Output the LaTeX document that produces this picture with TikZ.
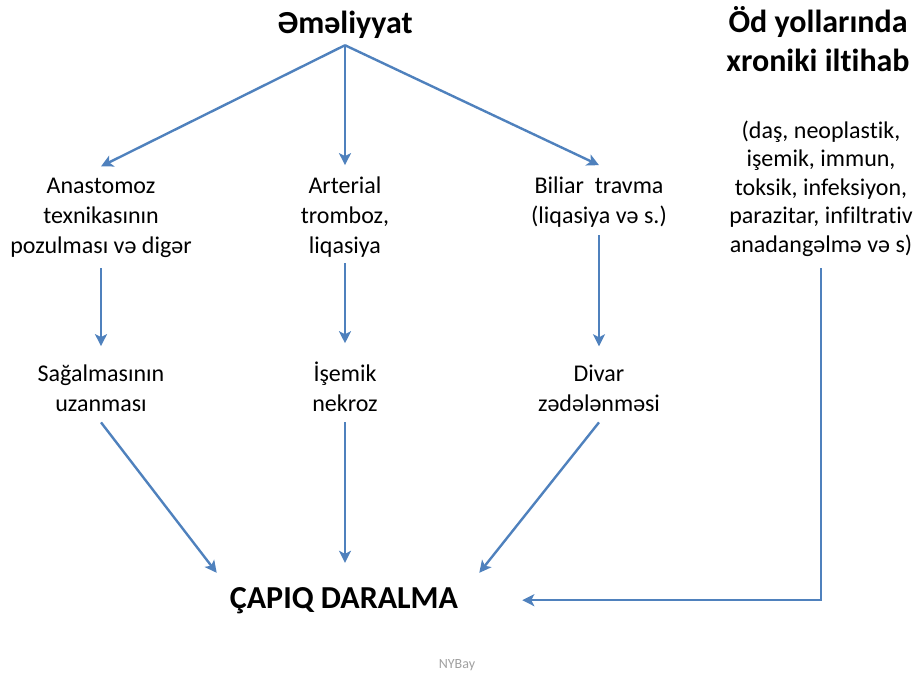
\documentclass[tikz,border=0pt]{standalone}
\usepackage{fontspec}
\setmainfont{Carlito}[Ligatures=NoCommon]
\usetikzlibrary{arrows.meta}
\definecolor{arrowblue}{HTML}{4F81BD}
\definecolor{txtgray}{HTML}{A0A0A0}
\begin{document}
\begin{tikzpicture}[x=1pt,y=-1pt,
  txt/.style={align=center, anchor=base, font=\fontsize{24}{30}\selectfont, inner xsep=2pt, inner ysep=11pt},
  ttl/.style={align=center, anchor=base, font=\fontsize{32}{39}\selectfont\bfseries, inner xsep=2pt, inner ysep=0pt},
  arr/.style={draw=arrowblue, line width=2.4pt, -{Stealth[length=12pt,width=12pt,inset=3pt]}}
]
\useasboundingbox (0,0) rectangle (916,673);
% base anchor = baseline of the last line
\node[ttl, inner ysep=7pt] (op) at (345,33) {Əməliyyat};
\node[ttl] (rt) at (818,71) {Öd yollarında\\xroniki iltihab};
\node[txt, font=\fontsize{24}{28.5}\selectfont, inner ysep=12pt] (para) at (821,252) {(daş, neoplastik,\\işemik, immun,\\toksik, infeksiyon,\\parazitar, infiltrativ\\anadangəlmə və s)};

\node[txt] (a1) at (101,253) {Anastomoz\\texnikasının\\pozulması və digər};
\node[txt] (a2) at (345,253) {Arterial\\tromboz,\\liqasiya};
\node[txt] (a3) at (599,223) {Biliar\ \ travma\\(liqasiya və s.)};

\node[txt] (b1) at (101,411) {Sağalmasının\\uzanması};
\node[txt] (b2) at (345,411) {İşemik\\nekroz};
\node[txt] (b3) at (599,411) {Divar\\zədələnməsi};

\node[ttl, inner xsep=13pt, inner ysep=14pt] (scar) at (344,608) {ÇAPIQ DARALMA};
\node[anchor=base, font=\fontsize{14}{16}\selectfont, text=txtgray, inner sep=0pt] (nyb) at (457,668) {NYBay};

\draw[arr] (op.south) -- (a1.north);
\draw[arr] (op.south) -- (a2.north);
\draw[arr] (op.south) -- (a3.north);

\draw[arr, shorten >=7pt] (a1.south) -- (b1.north);
\draw[arr, shorten <=-5pt, shorten >=7pt] (a2.south) -- (b2.north);
\draw[arr, shorten <=-3pt, shorten >=7pt] (a3.south) -- (b3.north);

\draw[arr] (b1.south) -- (scar.north west);
\draw[arr, shorten >=10pt] (b2.south) -- (scar.north -| b2.south);
\draw[arr] (b3.south) -- ([xshift=8pt]scar.north east);

\draw[arr, shorten >=51pt] (para.south) |- (scar.east);
\end{tikzpicture}
\end{document}
